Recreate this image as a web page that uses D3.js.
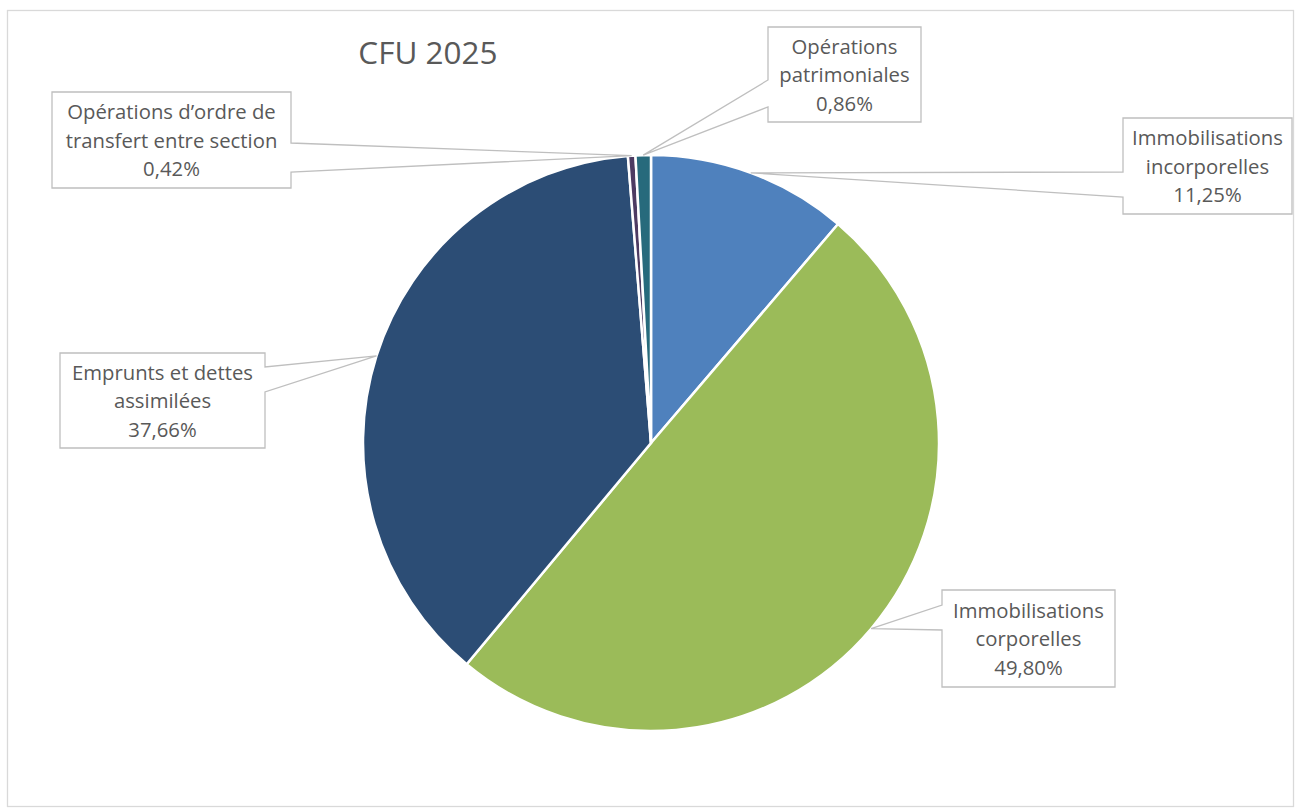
<!DOCTYPE html>
<html lang="fr">
<head>
<meta charset="utf-8">
<script src="https://cdn.jsdelivr.net/npm/d3@7"></script>
<style>
  body { margin: 0; background: #fff; }
  svg { display: block; font-family: "Open Sans", Lato, sans-serif; }
  .callout { fill: #fff; stroke: #bfbfbf; stroke-width: 1.3; }
  .label { fill: #595959; font-size: 20.3px; }
  .title { fill: #595959; font-size: 31.5px; }
</style>
</head>
<body>
<svg id="chart"></svg>
<script>
const width = 1295;
const height = 810;

// données
const categories = [
  "Immobilisations incorporelles",
  "Immobilisations corporelles",
  "Emprunts et dettes assimilées",
  "Opérations d’ordre de transfert entre section",
  "Opérations patrimoniales",
];
const shares = [11.25, 49.8, 37.66, 0.42, 0.86];
const labelLines = [
  ["Immobilisations", "incorporelles"],
  ["Immobilisations", "corporelles"],
  ["Emprunts et dettes", "assimilées"],
  ["Opérations d’ordre de", "transfert entre section"],
  ["Opérations", "patrimoniales"],
];
const colors = ["#4f81bd", "#9bbb59", "#2c4d75", "#4d3b62", "#276a7c"];

// position of each callout box: [x0, y0, x1, y1, side of the wedge, wedge base y1, y2]
const boxes = [
  [1123, 118, 1292, 214, "left", 172, 197],
  [942, 590, 1115, 687, "left", 605, 630],
  [60, 353, 265, 448, "right", 367, 392],
  [52, 92, 291, 188, "right", 143, 172],
  [768, 27, 921, 122, "left", 80, 107],
];

const fmtPct = (v) => v.toFixed(2).replace(".", ",") + "%";

const svg = d3.select("#chart").attr("width", width).attr("height", height);

svg
  .append("rect")
  .attr("x", 7.5)
  .attr("y", 10.5)
  .attr("width", 1286)
  .attr("height", 796)
  .attr("fill", "#fff")
  .attr("stroke", "#d9d9d9")
  .attr("stroke-width", 1.3);

svg
  .append("text")
  .attr("class", "title")
  .attr("x", 428)
  .attr("y", 64)
  .attr("text-anchor", "middle")
  .text("CFU 2025");

const cx = 651;
const cy = 443;
const r = 288;

const pie = d3.pie().sort(null).value((d) => d)(shares);
const arc = d3.arc().innerRadius(0).outerRadius(r);
const edge = d3.arc().innerRadius(r).outerRadius(r);

const g = svg.append("g").attr("transform", `translate(${cx},${cy})`);
g.selectAll("path")
  .data(pie)
  .join("path")
  .attr("d", arc)
  .attr("fill", (d, i) => colors[i])
  .attr("stroke", "#fff")
  .attr("stroke-width", 2.5)
  .attr("stroke-linejoin", "round");

function calloutPath(b, tip) {
  const [x0, y0, x1, y1, side, w1, w2] = b;
  const pts =
    side === "left"
      ? [[x0, y0], [x1, y0], [x1, y1], [x0, y1], [x0, w2], tip, [x0, w1]]
      : [[x0, y0], [x1, y0], [x1, w1], tip, [x1, w2], [x1, y1], [x0, y1]];
  return "M" + pts.map((p) => p.join(",")).join("L") + "Z";
}

const labels = svg
  .append("g")
  .selectAll("g")
  .data(pie)
  .join("g");

labels
  .append("path")
  .attr("class", "callout")
  .attr("d", (d, i) => {
    const [tx, ty] = edge.centroid(d);
    return calloutPath(boxes[i], [cx + tx, cy + ty]);
  });

labels
  .append("text")
  .attr("class", "label")
  .attr("text-anchor", "middle")
  .attr("x", (d, i) => (boxes[i][0] + boxes[i][2]) / 2)
  .attr("y", (d, i) => (boxes[i][1] + boxes[i][3]) / 2 - 21)
  .selectAll("tspan")
  .data((d, i) => labelLines[i].concat(fmtPct(shares[i])))
  .join("tspan")
  .attr("x", function () {
    return this.parentNode.getAttribute("x");
  })
  .attr("dy", (d, j) => (j === 0 ? 0 : 28.5))
  .text((d) => d);
</script>
</body>
</html>
